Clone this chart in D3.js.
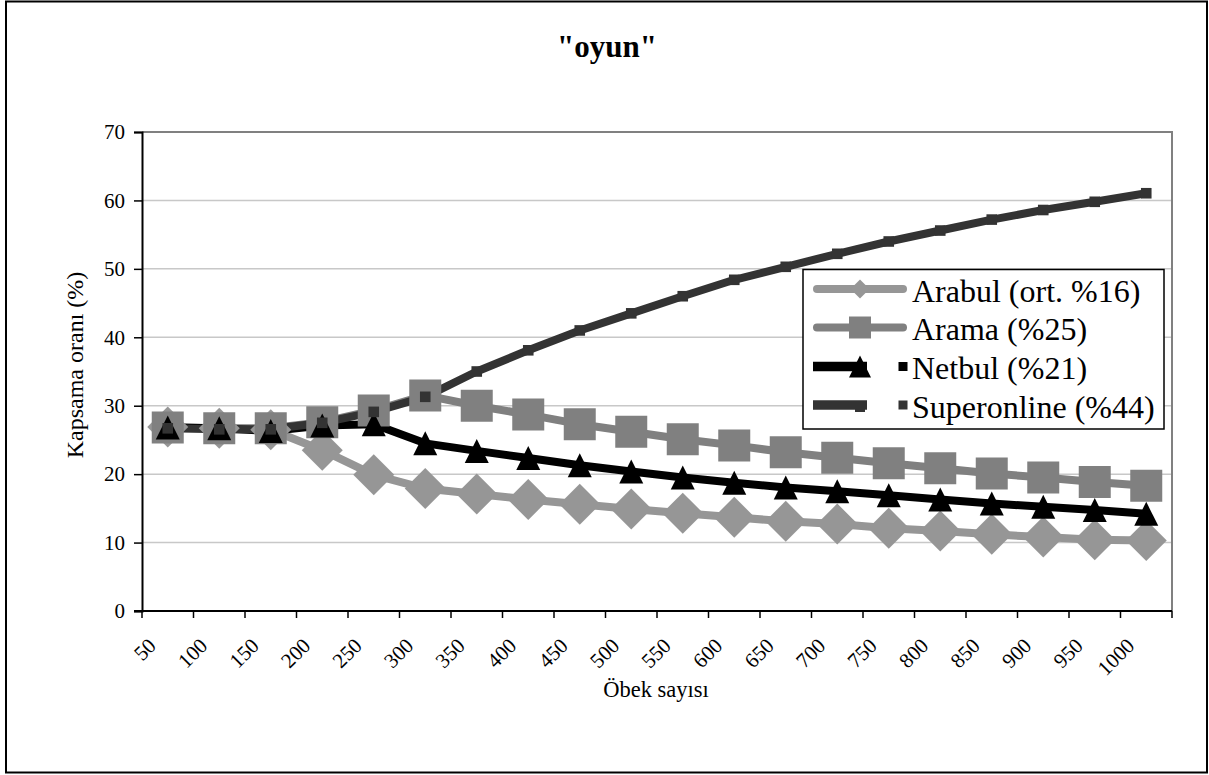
<!DOCTYPE html>
<html><head><meta charset="utf-8">
<script src="https://cdn.jsdelivr.net/npm/d3@7"></script>
<style>
html,body{margin:0;padding:0;background:#fff;}
</style></head>
<body><svg id="c" width="1209" height="775" font-family="'Liberation Serif', 'Times New Roman', Tinos, 'DejaVu Serif', serif"></svg>
<script>
const categories = [50,100,150,200,250,300,350,400,450,500,550,600,650,700,750,800,850,900,950,1000];
const yTicks = [0,10,20,30,40,50,60,70];
const seriesNames = ["Arabul (ort. %16)","Arama (%25)","Netbul (%21)","Superonline (%44)"];
const arabul = [26.9,26.7,26.5,23.5,19.9,17.9,17.1,16.3,15.6,14.9,14.3,13.7,13.1,12.7,12.1,11.7,11.2,10.8,10.4,10.3];
const arama = [26.8,26.7,26.7,27.6,29.3,31.5,30.0,28.7,27.3,26.2,25.1,24.2,23.2,22.4,21.6,20.85,20.1,19.5,18.85,18.3];
const netbul = [26.8,26.7,26.3,27.1,27.3,24.5,23.4,22.35,21.3,20.4,19.5,18.75,18.05,17.5,16.9,16.3,15.7,15.25,14.75,14.2];
const superonline = [26.7,26.55,26.55,27.5,29.1,31.3,35.0,38.1,41.0,43.5,46.0,48.4,50.3,52.2,54.0,55.6,57.2,58.6,59.8,61.05];

const FONT = "'Liberation Serif', 'Times New Roman', Tinos, 'DejaVu Serif', serif";
const svg = d3.select("#c");
const L = 142, R = 1172, T = 132, B = 611;
const x = d3.scaleBand().domain(categories).range([L, R]).padding(0);
const y = d3.scaleLinear().domain([0, 70]).range([B, T]);
const cx = d => x(d) + x.bandwidth() / 2;

// outer border
svg.append("rect").attr("x", 6).attr("y", 1.5).attr("width", 1201).attr("height", 771)
  .attr("fill", "#fff").attr("stroke", "#000").attr("stroke-width", 2);

// gridlines
svg.append("g").selectAll("line").data(yTicks.filter(t => t > 0 && t < 70)).join("line")
  .attr("x1", L).attr("x2", R).attr("y1", d => y(d)).attr("y2", d => y(d))
  .attr("stroke", "#c8c8c8").attr("stroke-width", 1.5);

// plot border top/right
svg.append("path").attr("d", `M${L},${T}H${R}V${B}`).attr("fill", "none")
  .attr("stroke", "#808080").attr("stroke-width", 2);

// y axis
const yAxis = d3.axisLeft(y).tickValues(yTicks).tickSize(8).tickPadding(9).tickFormat(d3.format("d"));
const gy = svg.append("g").attr("transform", `translate(${L},0)`).call(yAxis);
gy.attr("font-family", FONT).attr("font-size", 21);
gy.select(".domain").attr("stroke", "#000").attr("stroke-width", 2);
gy.selectAll(".tick line").attr("stroke", "#000").attr("stroke-width", 1.5);
gy.selectAll(".tick text").attr("fill", "#000");

// x axis: ticks at category boundaries
const boundaries = categories.map(c => x(c)).concat([R]);
const gx = svg.append("g").attr("font-family", FONT);
gx.append("line").attr("x1", L - 8).attr("x2", R).attr("y1", B).attr("y2", B).attr("stroke", "#000").attr("stroke-width", 2);
gx.selectAll("line.t").data(boundaries).join("line").attr("class", "t")
  .attr("x1", d => d).attr("x2", d => d).attr("y1", B).attr("y2", B + 7)
  .attr("stroke", "#000").attr("stroke-width", 1.5);
gx.selectAll("text").data(categories).join("text")
  .attr("transform", d => `translate(${cx(d) - 10.5},${647}) rotate(-45)`)
  .attr("text-anchor", "end").attr("font-size", 21).text(d => d);

// axis titles
svg.append("text").attr("x", 656).attr("y", 697).attr("text-anchor", "middle").attr("font-size", 22.5).text("Öbek sayısı");
svg.append("text").attr("transform", "translate(83,365) rotate(-90)").attr("text-anchor", "middle").attr("font-size", 24).text("Kapsama oranı (%)");

// title
svg.append("text").attr("x", 607).attr("y", 57).attr("text-anchor", "middle").attr("font-size", 31).attr("font-weight", "bold").text('"oyun"');

const series = [
  {name: seriesNames[0], values: arabul, color: "#969696", marker: "diamond", lw: 8},
  {name: seriesNames[1], values: arama, color: "#808080", marker: "square", lw: 8},
  {name: seriesNames[2], values: netbul, color: "#000000", marker: "triangle", lw: 8},
  {name: seriesNames[3], values: superonline, color: "#333333", marker: "small", lw: 8}
];
const line = d3.line().x((d, i) => cx(categories[i])).y(d => y(d));

const markerPath = (m, s) => {
  if (m === "diamond") return `M0,${-s}L${s},0L0,${s}L${-s},0Z`;
  if (m === "square") return `M${-s},${-s}H${s}V${s}H${-s}Z`;
  if (m === "triangle") return `M0,${-s}L${s},${s}H${-s}Z`;
  return `M${-s},${-s}H${s}V${s}H${-s}Z`;
};
const mSize = {diamond: 20.5, square: 16, triangle: 12, small: 5.3};

// lines first
series.forEach(s => {
  svg.append("path").datum(s.values).attr("d", line).attr("fill", "none")
    .attr("stroke", s.color).attr("stroke-width", s.lw).attr("stroke-linejoin", "round");
});
// then markers
series.forEach(s => {
  svg.append("g").selectAll("path").data(s.values).join("path")
    .attr("transform", (d, i) => `translate(${cx(categories[i])},${y(d)})`)
    .attr("d", markerPath(s.marker, mSize[s.marker])).attr("fill", s.color);
});

// legend
const lg = svg.append("g");
lg.append("rect").attr("x", 803).attr("y", 269.5).attr("width", 361).attr("height", 159.5)
  .attr("fill", "#fff").attr("stroke", "#000").attr("stroke-width", 1.5);
const rowY = [289, 327.5, 366.5, 405];
series.forEach((s, i) => {
  const yy = rowY[i];
  if (i < 2) {
    lg.append("line").attr("x1", 817).attr("x2", 903).attr("y1", yy).attr("y2", yy)
      .attr("stroke", s.color).attr("stroke-width", 8).attr("stroke-linecap", "round");
    lg.append("path").attr("transform", `translate(860,${yy})`)
      .attr("d", markerPath(s.marker, i === 0 ? 9.5 : 11)).attr("fill", s.color);
  } else {
    lg.append("line").attr("x1", 813).attr("x2", 867).attr("y1", yy).attr("y2", yy)
      .attr("stroke", s.color).attr("stroke-width", 9.5);
    if (i === 2) lg.append("path").attr("transform", `translate(860,${yy})`).attr("d", markerPath("triangle", 11)).attr("fill", s.color);
    else lg.append("path").attr("transform", `translate(860,${yy + 2})`).attr("d", markerPath("small", 5)).attr("fill", s.color);
    lg.append("rect").attr("x", 898.5).attr("y", yy - 4.5).attr("width", 9).attr("height", 9).attr("fill", s.color);
  }
  lg.append("text").attr("x", 912).attr("y", yy + 12.5).attr("font-size", 32).text(s.name);
});
</script></body></html>
